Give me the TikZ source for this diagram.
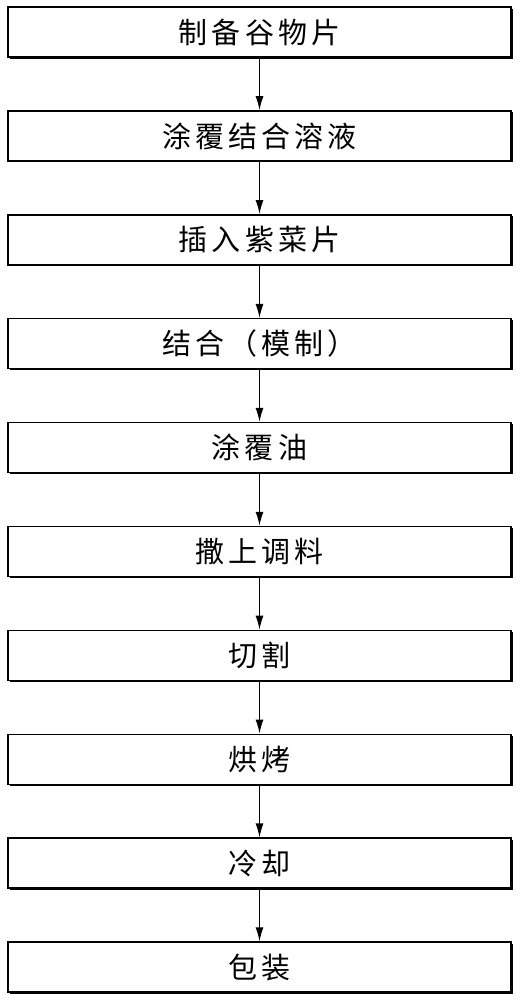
\documentclass[tikz,border=0pt]{standalone}
\usepackage{fontspec}
\newfontfamily\cjk[LetterSpace=14]{Noto Sans CJK SC}
\usetikzlibrary{arrows.meta,shadows}
\tikzset{
  stepbox/.style={draw=black, line width=1.5pt, fill=white, minimum width=503pt, minimum height=50pt, inner sep=0pt,
    font=\cjk\fontsize{29}{29}\selectfont,
    general shadow={shadow xshift=1.6pt, shadow yshift=-1.6pt, fill=black}},
  flow/.style={draw=black, line width=1.2pt, -{Latex[length=14pt,width=8pt]}}
}
\begin{document}
\begin{tikzpicture}[x=1pt,y=1pt]
\useasboundingbox (0,0) rectangle (520,-1000);
\foreach \i/\t in {0/制备谷物片,1/涂覆结合溶液,2/插入紫菜片,3/结合（模制）,4/涂覆油,5/撒上调料,6/切割,7/烘烤,8/冷却,9/包装}{
  \node[stepbox] (b\i) at (259.5,{-(32+103.9*\i)}) {\t};
}
\foreach \i [evaluate=\i as \j using int(\i+1)] in {0,...,8}{
  \draw[flow] (b\i.south) -- (b\j.north);
}
\end{tikzpicture}
\end{document}
